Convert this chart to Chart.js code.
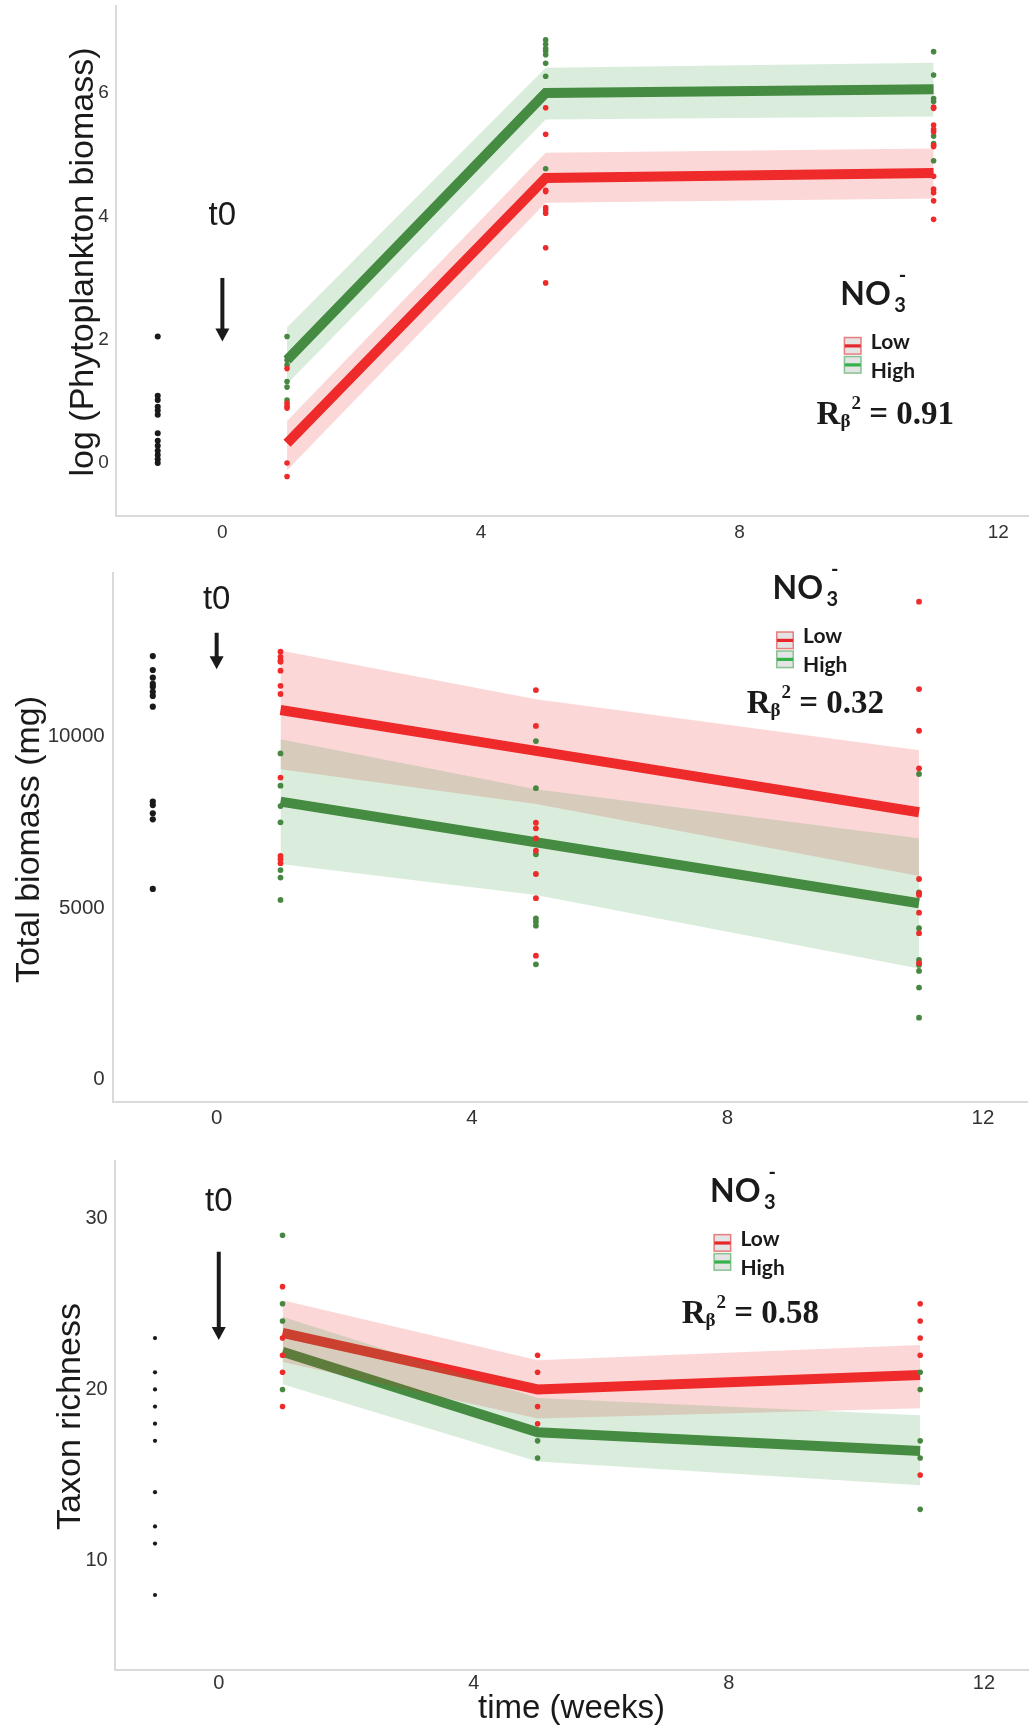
<!DOCTYPE html>
<html>
<head>
<meta charset="utf-8">
<title>NO3 treatment – phytoplankton, biomass and richness</title>
<script src="https://cdn.jsdelivr.net/npm/chart.js@4.4.1/dist/chart.umd.min.js"></script>
<style>
  html, body { margin: 0; padding: 0; background: #fff; }
  body { width: 1031px; height: 1728px; position: relative; overflow: hidden; }
  canvas { position: absolute; left: 0; display: block; }
</style>
</head>
<body>
<canvas id="phytoChart" width="1031" height="560" style="top:0px"></canvas>
<canvas id="biomassChart" width="1031" height="580" style="top:560px"></canvas>
<canvas id="richnessChart" width="1031" height="588" style="top:1140px"></canvas>
<script>
// sampling weeks of the treatments; the pre-treatment sample sits at week -1
const weeks = [1, 5, 11];
const startWeek = -1;
const xTicks = [0, 4, 8, 12];

// log (phytoplankton biomass)
const phytoTicks = [0, 2, 4, 6];
const phytoStart = [2.05, 1.09, 1.02, 0.91, 0.85, 0.78, 0.48, 0.36, 0.28, 0.2, 0.13, 0.06, 0.0];
const phytoLowWk1 = [1.53, 0.97, 0.92, 0.89, 0.0, -0.22];
const phytoLowWk5 = [5.76, 5.33, 4.42, 4.40, 4.14, 4.10, 4.05, 3.49, 2.92];
const phytoLowWk11 = [5.77, 5.75, 5.48, 5.41, 5.37, 5.15, 5.13, 4.65, 4.44, 4.38, 4.25, 3.95];
const phytoHighWk1 = [2.05, 1.67, 1.59, 1.32, 1.23, 1.02];
const phytoHighWk5 = [6.86, 6.79, 6.72, 6.68, 6.62, 6.48, 6.27, 4.77];
const phytoHighWk11 = [6.67, 6.29, 5.91, 5.86, 5.30, 5.18, 4.90];
const phytoLowFit = [0.32, 4.62, 4.70];
const phytoLowUpper = [0.68, 5.03, 5.10];
const phytoLowLower = [-0.12, 4.22, 4.29];
const phytoHighFit = [1.67, 6.00, 6.06];
const phytoHighUpper = [2.20, 6.41, 6.49];
const phytoHighLower = [1.28, 5.57, 5.62];

// total biomass (mg)
const biomassTicks = [0, 5000, 10000];
const biomassStart = [12340, 11935, 11710, 11530, 11450, 11300, 11180, 10865, 8100, 8000, 7760, 7585, 5555];
const biomassLowWk1 = [12470, 12320, 12225, 12175, 11915, 11475, 11235, 8800, 6515, 6420, 6305];
const biomassLowWk5 = [11350, 10305, 7485, 7320, 7030, 6670, 5990, 5285, 3610];
const biomassLowWk11 = [13925, 11380, 10165, 9070, 5845, 5430, 5380, 4865, 4265, 3390];
const biomassHighWk1 = [9505, 8565, 7970, 7495, 6105, 5885, 5235];
const biomassHighWk5 = [9865, 8490, 6565, 4700, 4600, 4485, 3360];
const biomassHighWk11 = [8905, 5455, 4410, 3485, 3340, 3165, 2680, 1805];
const biomassLowFit = [10770, 9580, 7790];
const biomassLowUpper = [12500, 11080, 9600];
const biomassLowLower = [9040, 8030, 5930];
const biomassHighFit = [8100, 6915, 5140];
const biomassHighUpper = [9915, 8460, 7030];
const biomassHighLower = [6280, 5380, 3240];

// taxon richness
const richnessTicks = [10, 20, 30];
const richnessStart = [23, 21, 20, 19, 18, 17, 14, 12, 11, 8];
const richnessLowWk1 = [26, 23, 22, 21, 19];
const richnessLowWk5 = [22, 21, 19, 18];
const richnessLowWk11 = [25, 24, 23, 22, 15];
const richnessHighWk1 = [29, 25, 24, 20];
const richnessHighWk5 = [17, 16];
const richnessHighWk11 = [21, 20, 17, 16, 13];
const richnessLowFit = [23.3, 20.0, 20.85];
const richnessLowUpper = [25.2, 21.7, 22.6];
const richnessLowLower = [21.6, 18.3, 18.9];
const richnessHighFit = [22.2, 17.5, 16.4];
const richnessHighUpper = [24.25, 19.5, 18.5];
const richnessHighLower = [20.3, 15.8, 14.4];

const RED = 'rgb(238, 42, 42)';
const GREEN = 'rgb(72, 135, 65)';
const RED_BAND = 'rgba(238, 42, 42, 0.19)';
const GREEN_BAND = 'rgba(60, 160, 70, 0.19)';
const INK = '#1a1a1a';
const AXIS = '#dadada';
const SANS = '"Liberation Sans", Arial, sans-serif';
const SERIF = '"Liberation Serif", "Times New Roman", serif';
const CALI = 'Lato, "Open Sans", sans-serif';

const panels = [
    {
        canvas: 'phytoChart', height: 560, plotTop: 6, plotBottom: 516, plotLeft: 115.7,
        xRange: [-1.65, 12.46], yRange: [-0.86, 7.41], yTicks: phytoTicks,
        tickSize: 19, xTickPad: 5, yTickPad: 7,
        yTitle: { text: 'log (Phytoplankton biomass)', x: 93.3, y: 262 },
        start: phytoStart,
        low: [phytoLowWk1, phytoLowWk5, phytoLowWk11],
        high: [phytoHighWk1, phytoHighWk5, phytoHighWk11],
        lowFit: phytoLowFit, lowUpper: phytoLowUpper, lowLower: phytoLowLower,
        highFit: phytoHighFit, highUpper: phytoHighUpper, highLower: phytoHighLower,
        t0: { label: 4.0, from: 3.0, to: 1.97 },
        legend: { x: 840.3, y: 304.8 },
        r2: { x: 816.6, y: 423.6, value: '0.91' },
        startRadius: 3, pointRadius: 2.8
    },
    {
        canvas: 'biomassChart', height: 580, plotTop: 12.8, plotBottom: 542, plotLeft: 112.7,
        xRange: [-1.628, 12.705], yRange: [-653, 14767], yTicks: biomassTicks,
        tickSize: 20.5, xTickPad: 4, yTickPad: 8,
        yTitle: { text: 'Total biomass (mg)', x: 39.3, y: 279.5 },
        start: biomassStart,
        low: [biomassLowWk1, biomassLowWk5, biomassLowWk11],
        high: [biomassHighWk1, biomassHighWk5, biomassHighWk11],
        lowFit: biomassLowFit, lowUpper: biomassLowUpper, lowLower: biomassLowLower,
        highFit: biomassHighFit, highUpper: biomassHighUpper, highLower: biomassHighLower,
        t0: { label: 13975, from: 13020, to: 11955 },
        legend: { x: 772.6, y: 39.3 },
        r2: { x: 746.7, y: 153.3, value: '0.32' },
        startRadius: 3.1, pointRadius: 2.9
    },
    {
        canvas: 'richnessChart', height: 588, plotTop: 20.6, plotBottom: 529.5, plotLeft: 114.7,
        xRange: [-1.632, 12.694], yRange: [3.65, 33.36], yTicks: richnessTicks,
        tickSize: 20, xTickPad: 2, yTickPad: 7,
        yTitle: { text: 'Taxon richness', x: 80, y: 276.5 },
        xTitle: { text: 'time (weeks)', x: 571.6, y: 578 },
        start: richnessStart,
        low: [richnessLowWk1, richnessLowWk5, richnessLowWk11],
        high: [richnessHighWk1, richnessHighWk5, richnessHighWk11],
        lowFit: richnessLowFit, lowUpper: richnessLowUpper, lowLower: richnessLowLower,
        highFit: richnessHighFit, highUpper: richnessHighUpper, highLower: richnessHighLower,
        t0: { label: 30.94, from: 28.04, to: 22.88 },
        legend: { x: 710, y: 61.9 },
        r2: { x: 681.7, y: 183.3, value: '0.58' },
        startRadius: 2.1, pointRadius: 2.8
    }
];

// points at one x for a list of values
function column(x, values) {
    return values.map(v => ({ x, y: v }));
}

function series(values) {
    return weeks.map((w, i) => ({ x: w, y: values[i] }));
}

function scatterSet(data, color, radius) {
    return {
        data, showLine: false, order: 0,
        pointRadius: radius, pointHoverRadius: radius,
        pointBackgroundColor: color, pointBorderWidth: 0
    };
}

function bandSet(data, color, fill) {
    return {
        data, fill, order: 1, backgroundColor: color,
        borderColor: 'rgba(0,0,0,0)', borderWidth: 0, pointRadius: 0, tension: 0
    };
}

function fitSet(data, color) {
    return {
        data, order: 2, borderColor: color, borderWidth: 10,
        borderJoinStyle: 'miter', pointRadius: 0, fill: false, tension: 0
    };
}

// axis titles, t0 marker, NO3- legend and R² text
function decor(p) {
    return {
        id: 'decor-' + p.canvas,
        afterDraw(chart) {
            const ctx = chart.ctx;
            const xs = chart.scales.x, ys = chart.scales.y;
            ctx.save();
            ctx.fillStyle = INK;
            ctx.strokeStyle = INK;

            // y title
            ctx.save();
            ctx.font = `34px ${SANS}`;
            ctx.textAlign = 'center';
            ctx.textBaseline = 'alphabetic';
            ctx.translate(p.yTitle.x, p.yTitle.y);
            ctx.rotate(-Math.PI / 2);
            ctx.fillText(p.yTitle.text, 0, 0);
            ctx.restore();

            if (p.xTitle) {
                ctx.font = `33px ${SANS}`;
                ctx.textAlign = 'center';
                ctx.textBaseline = 'alphabetic';
                ctx.fillText(p.xTitle.text, p.xTitle.x, p.xTitle.y);
            }

            // t0 label and arrow
            const ax = xs.getPixelForValue(0);
            ctx.font = `33px ${SANS}`;
            ctx.textAlign = 'center';
            ctx.textBaseline = 'middle';
            ctx.fillText('t0', ax, ys.getPixelForValue(p.t0.label));
            const top = ys.getPixelForValue(p.t0.from);
            const tip = ys.getPixelForValue(p.t0.to);
            ctx.lineWidth = 4;
            ctx.beginPath();
            ctx.moveTo(ax, top);
            ctx.lineTo(ax, tip - 9);
            ctx.stroke();
            ctx.beginPath();
            ctx.moveTo(ax - 7, tip - 13);
            ctx.lineTo(ax + 7, tip - 13);
            ctx.lineTo(ax, tip);
            ctx.closePath();
            ctx.fill();

            // legend title NO3-
            const lx = p.legend.x, ly = p.legend.y;
            ctx.textAlign = 'left';
            ctx.textBaseline = 'alphabetic';
            ctx.font = `bold 32px ${CALI}`;
            ctx.fillText('NO', lx, ly);
            ctx.font = `bold 20px ${CALI}`;
            ctx.fillText('3', lx + 54, ly + 7);
            ctx.fillText('-', lx + 58.5, ly - 23);

            // legend keys
            const keys = [
                { label: 'Low', line: 'rgb(232, 37, 43)', edge: 'rgba(238, 42, 42, 0.55)' },
                { label: 'High', line: 'rgb(52, 178, 74)', edge: 'rgba(60, 170, 80, 0.55)' }
            ];
            keys.forEach((k, i) => {
                const bx = lx + 3.4, by = ly + 32 + i * 19;
                ctx.fillStyle = '#e4e4e4';
                ctx.fillRect(bx, by, 18, 18);
                ctx.strokeStyle = k.edge;
                ctx.lineWidth = 1.5;
                ctx.strokeRect(bx + 0.75, by + 0.75, 16.5, 16.5);
                ctx.fillStyle = k.line;
                ctx.fillRect(bx + 1, by + 7.5, 16, 3.2);
                ctx.fillStyle = INK;
                ctx.font = `bold 21px ${CALI}`;
                ctx.fillText(k.label, lx + 30.5, ly + 44.1 + i * 29);
            });

            // R_beta^2 = value
            let rx = p.r2.x;
            const ry = p.r2.y;
            ctx.font = `bold 33px ${SERIF}`;
            ctx.fillText('R', rx, ry);
            rx += ctx.measureText('R').width;
            ctx.font = `bold 19px ${SERIF}`;
            ctx.fillText('β', rx, ry + 3);
            rx += ctx.measureText('β').width + 1;
            ctx.fillText('2', rx, ry - 15);
            rx += ctx.measureText('2').width;
            ctx.font = `bold 33px ${SERIF}`;
            ctx.fillText(' = ' + p.r2.value, rx, ry);

            ctx.restore();
        }
    };
}

function buildPanel(p) {
    const ctx = document.getElementById(p.canvas).getContext('2d');
    const lowPts = [], highPts = [];
    weeks.forEach((w, i) => {
        lowPts.push(...column(w, p.low[i]));
        highPts.push(...column(w, p.high[i]));
    });

    const tickFont = { family: SANS, size: p.tickSize };
    const zeroPadding = s => { s.paddingTop = 0; s.paddingBottom = 0; s.paddingLeft = 0; s.paddingRight = 0; };

    return new Chart(ctx, {
        type: 'line',
        data: {
            datasets: [
                scatterSet(lowPts, RED, p.pointRadius),
                scatterSet(highPts, GREEN, p.pointRadius),
                scatterSet(column(startWeek, p.start), INK, p.startRadius),
                bandSet(series(p.highUpper), GREEN_BAND, '+1'),
                bandSet(series(p.highLower), GREEN_BAND, false),
                bandSet(series(p.lowUpper), RED_BAND, '+1'),
                bandSet(series(p.lowLower), RED_BAND, false),
                fitSet(series(p.lowFit), RED),
                fitSet(series(p.highFit), GREEN)
            ]
        },
        options: {
            responsive: false,
            animation: false,
            events: [],
            layout: { padding: { top: p.plotTop, left: 0, right: 0, bottom: 0 } },
            plugins: {
                legend: { display: false },
                tooltip: { enabled: false },
                title: { display: false },
                filler: { drawTime: 'beforeDatasetDraw' }
            },
            scales: {
                x: {
                    type: 'linear',
                    min: p.xRange[0],
                    max: p.xRange[1],
                    afterBuildTicks: s => { s.ticks = xTicks.map(v => ({ value: v })); },
                    afterFit: s => { s.height = p.height - p.plotBottom; zeroPadding(s); },
                    grid: { display: false, drawTicks: false },
                    border: { display: true, color: AXIS, width: 2 },
                    ticks: {
                        font: tickFont, color: '#333', padding: p.xTickPad,
                        maxRotation: 0, autoSkip: false, callback: v => String(v)
                    }
                },
                y: {
                    type: 'linear',
                    min: p.yRange[0],
                    max: p.yRange[1],
                    afterBuildTicks: s => { s.ticks = p.yTicks.map(v => ({ value: v })); },
                    afterFit: s => { s.width = p.plotLeft; zeroPadding(s); },
                    grid: { display: false, drawTicks: false },
                    border: { display: true, color: AXIS, width: 2 },
                    ticks: {
                        font: tickFont, color: '#333', padding: p.yTickPad,
                        autoSkip: false, callback: v => String(v)
                    }
                }
            }
        },
        plugins: [decor(p)]
    });
}

panels.forEach(buildPanel);
</script>
</body>
</html>
